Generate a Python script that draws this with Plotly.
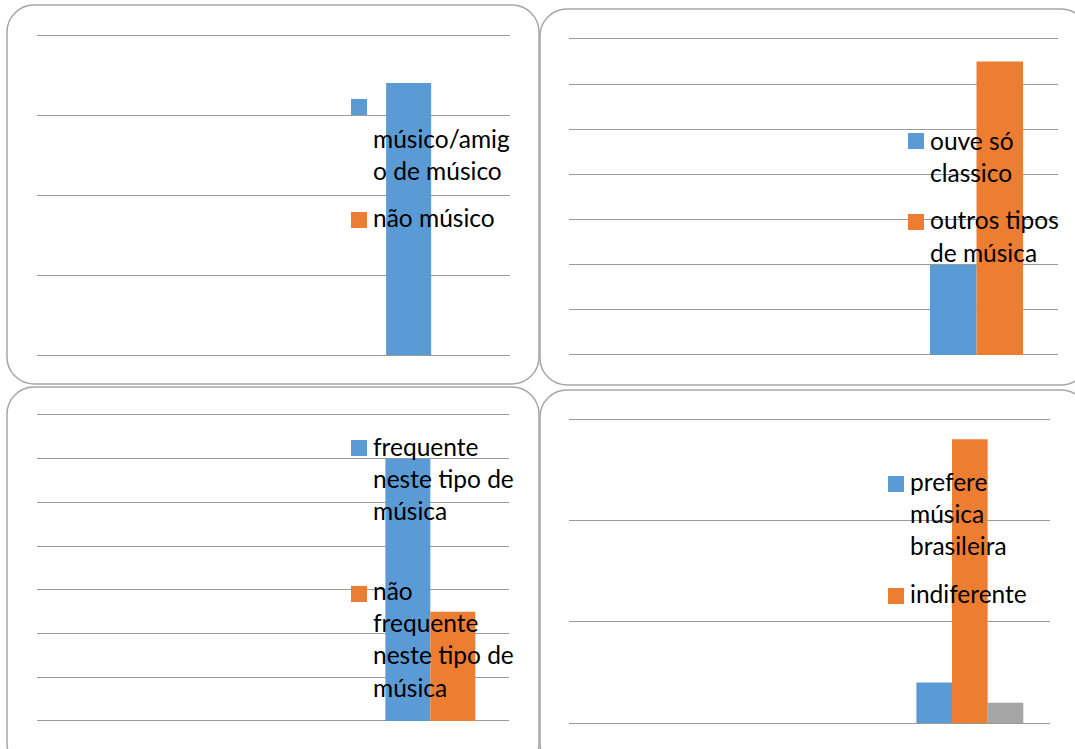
import plotly.graph_objects as go

# ---------------- data ----------------
categories = ["c1", "c2", "c3"]

p1_names = ["músico/amig<br>o de músico", "não músico"]
p1_values = [[None, None, 17], [None, None, 0]]
p1_ymax, p1_step = 20, 5

p2_names = ["ouve só<br>classico", "outros tipos<br>de música"]
p2_values = [[None, None, 4], [None, None, 13]]
p2_ymax, p2_step = 14, 2

p3_names = ["frequente<br>neste tipo de<br>música", "não<br>frequente<br>neste tipo de<br>música"]
p3_values = [[None, None, 12], [None, None, 5]]
p3_ymax, p3_step = 14, 2

p4_names = ["prefere<br>música<br>brasileira", "indiferente", ""]
p4_values = [[None, None, 2], [None, None, 14], [None, None, 1]]
p4_ymax, p4_step = 15, 5

# ---------------- style / layout ----------------
W, H = 1075, 749
COLORS = ["#5B9BD5", "#ED7D31", "#A5A5A5"]
GRID = "#9a9a9a"
FONT = "Lato, 'Open Sans', sans-serif"
FSIZE = 24.5
LINE_H = 32.4
EPS = 0.004  # small headroom so that the top gridline is drawn

def px(x):
    return x / W

def py(y):
    return 1 - y / H

panels = [
    dict(names=p1_names, values=p1_values, ymax=p1_ymax, step=p1_step,
         area=(37, 35, 510, 355), border=(7, 5, 539, 384),
         sq_x=351, txt_x=371, items=[(99, 138), (212, 218)]),
    dict(names=p2_names, values=p2_values, ymax=p2_ymax, step=p2_step,
         area=(569, 39, 1058, 355), border=(540, 9, 1088, 385),
         sq_x=908, txt_x=928, items=[(133, 140), (214, 220)]),
    dict(names=p3_names, values=p3_values, ymax=p3_ymax, step=p3_step,
         area=(37, 415, 509, 721), border=(7, 387, 539, 770),
         sq_x=351, txt_x=371, items=[(440, 446), (586, 590)]),
    dict(names=p4_names, values=p4_values, ymax=p4_ymax, step=p4_step,
         area=(569, 419, 1050, 723), border=(540, 390, 1088, 770),
         sq_x=888, txt_x=908, items=[(476, 481), (588, 593)]),
]

fig = go.Figure()
shapes = []
annotations = []

def rounded_path(x0, y0, x1, y1, r):
    k = 0.5523 * r
    def P(x, y):
        return f"{px(x):.5f},{py(y):.5f}"
    d = (f"M {P(x0 + r, y0)} L {P(x1 - r, y0)} "
         f"C {P(x1 - r + k, y0)} {P(x1, y0 + r - k)} {P(x1, y0 + r)} "
         f"L {P(x1, y1 - r)} "
         f"C {P(x1, y1 - r + k)} {P(x1 - r + k, y1)} {P(x1 - r, y1)} "
         f"L {P(x0 + r, y1)} "
         f"C {P(x0 + r - k, y1)} {P(x0, y1 - r + k)} {P(x0, y1 - r)} "
         f"L {P(x0, y0 + r)} "
         f"C {P(x0, y0 + r - k)} {P(x0 + r - k, y0)} {P(x0 + r, y0)} Z")
    return d

for i, p in enumerate(panels):
    idx = "" if i == 0 else str(i + 1)
    xa, ya = "x" + idx, "y" + idx
    n = len(p["values"])
    w = 1.0 / (n + 1.5)
    for s, (name, vals) in enumerate(zip(p["names"], p["values"])):
        fig.add_trace(go.Bar(
            x=categories, y=vals, name=name, xaxis=xa, yaxis=ya,
            marker=dict(color=COLORS[s], line=dict(width=0)),
            width=w, offset=-n * w / 2 + s * w, showlegend=False,
            hoverinfo="skip",
        ))
    x0, y0, x1, y1 = p["area"]
    y0e = y0 - (y1 - y0) * EPS
    fig.update_layout({
        "xaxis" + idx: dict(domain=[px(x0), px(x1)], anchor=ya,
                            range=[-0.5, 2.5], showticklabels=False,
                            showgrid=False, zeroline=False, ticks="",
                            showline=False, fixedrange=True),
        "yaxis" + idx: dict(domain=[py(y1), py(y0e)], anchor=xa,
                            range=[0, p["ymax"] * (1 + EPS)], dtick=p["step"], tick0=0,
                            showticklabels=False, showgrid=True,
                            gridcolor=GRID, gridwidth=1.4, zeroline=True,
                            zerolinecolor=GRID, zerolinewidth=1.4,
                            ticks="", showline=False, fixedrange=True),
    })
    bx0, by0, bx1, by1 = p["border"]
    shapes.append(dict(type="path", xref="paper", yref="paper",
                       path=rounded_path(bx0, by0, bx1, by1, 27),
                       line=dict(color="#a6a6a6", width=1.5),
                       fillcolor="rgba(0,0,0,0)", layer="above"))
    # legend drawn manually (Excel style, overlapping the plot)
    for s, (sq_top, line_c) in enumerate(p["items"]):
        if s >= len(p["names"]) or p["names"][s] == "":
            continue
        shapes.append(dict(type="rect", xref="paper", yref="paper",
                           x0=px(p["sq_x"]), x1=px(p["sq_x"] + 16),
                           y0=py(sq_top + 16), y1=py(sq_top),
                           fillcolor=COLORS[s], line=dict(width=0),
                           layer="above"))
        for L, line in enumerate(p["names"][s].split("<br>")):
            annotations.append(dict(
                xref="paper", yref="paper", x=px(p["txt_x"]),
                y=py(line_c + L * LINE_H), text=line, showarrow=False,
                xanchor="left", yanchor="middle",
                font=dict(family=FONT, size=FSIZE, color="#000000"),
            ))

fig.update_layout(
    width=W, height=H, autosize=False,
    margin=dict(l=0, r=0, t=0, b=0, pad=0),
    paper_bgcolor="white", plot_bgcolor="rgba(0,0,0,0)",
    barmode="overlay", showlegend=False,
    shapes=shapes, annotations=annotations,
    font=dict(family=FONT),
)

fig.write_html("out.html")
